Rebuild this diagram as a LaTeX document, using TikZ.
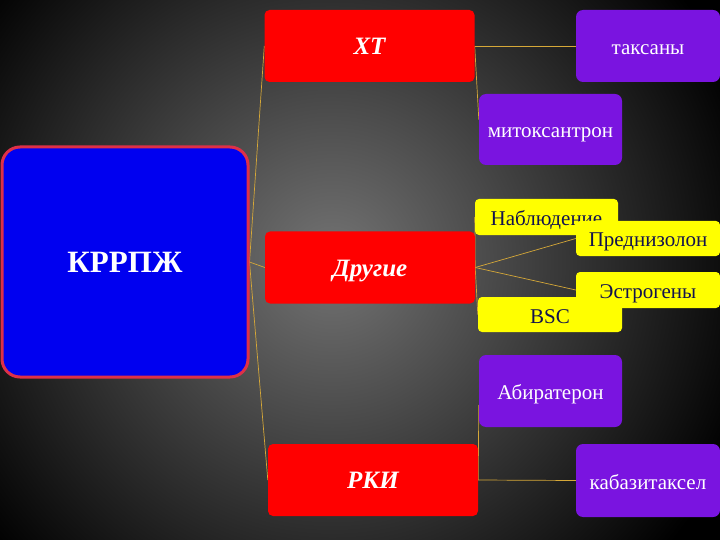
\documentclass[tikz,border=0pt]{standalone}
\usepackage{fontspec}
\setmainfont{Liberation Serif}
\usepackage{xcolor}
\usepackage{tikz}
\usetikzlibrary{positioning, calc}
\definecolor{slidegrey}{RGB}{116, 116, 116}
\definecolor{mainblue}{RGB}{0, 0, 240}
\definecolor{mainrim}{RGB}{222, 48, 72}
\definecolor{groupred}{RGB}{255, 0, 0}
\definecolor{drugviolet}{RGB}{122, 20, 224}
\definecolor{altyellow}{RGB}{255, 255, 0}
\definecolor{altnavy}{RGB}{18, 18, 78}
\definecolor{linkgold}{RGB}{214, 168, 56}
\pgfdeclarelayer{bg}
\pgfdeclarelayer{links}
\pgfsetlayers{bg,links,main}

\begin{document}
\begin{tikzpicture}[
    x=1pt, y=-1pt,
    mainbox/.style={rectangle, draw=mainrim, fill=mainblue, line width=3pt, rounded corners=18pt, align=center, minimum width=246pt, minimum height=230pt, text=white, font=\fontsize{31}{36}\selectfont\bfseries},
    groupbox/.style={rectangle, fill=groupred, rounded corners=5pt, align=center, minimum width=210pt, minimum height=72pt, inner sep=0pt, text height=20pt, text depth=3pt, text=white, font=\fontsize{25}{29}\selectfont\bfseries\itshape},
    drugbox/.style={rectangle, fill=drugviolet, rounded corners=7pt, align=center, minimum width=144pt, minimum height=72pt, inner sep=0pt, text height=18pt, text depth=1pt, text=white, font=\fontsize{21}{25}\selectfont},
    altbox/.style={rectangle, fill=altyellow, rounded corners=4pt, align=center, minimum width=144pt, minimum height=35pt, inner sep=0pt, text height=18pt, text depth=1pt, text=altnavy, font=\fontsize{21}{25}\selectfont},
    link/.style={draw=linkgold, line width=0.7pt}
]
\useasboundingbox (0,0) rectangle (720,540);

\begin{pgfonlayer}{bg}
\clip (0,0) rectangle (720,540);
\fill[black] (0,0) rectangle (720,540);
\shade[inner color=slidegrey, outer color=black] (332,262) circle (440);
\end{pgfonlayer}

\node [mainbox] (crpc) at (125,262) {КРРПЖ};

\node [groupbox] (chemo) at (369.5,46) {ХТ};
\node [groupbox] (other) at (370,267.5) {Другие};
\node [groupbox] (trials) at (373,480) {РКИ};

\node [drugbox] (taxanes) at (648,46) {таксаны};
\node [drugbox, minimum width=143pt, minimum height=71pt] (mitox) at (550.5,129.5) {митоксантрон};

\node [altbox, minimum width=143pt, minimum height=36pt] (watch) at (546.5,217) {Наблюдение};
\node [altbox] (pred) at (648,238.5) {Преднизолон};
\node [altbox] (bsc) at (550,314.5) {BSC};
\node [altbox, minimum height=36pt] (estro) at (648,290) {Эстрогены};

\node [drugbox, minimum width=143pt] (abira) at (550.5,391) {Абиратерон};
\node [drugbox, minimum height=73pt] (cabazi) at (648,480.5) {кабазитаксел};

\begin{pgfonlayer}{links}
\path [link] (crpc.east) -- (chemo.west);
\path [link] (crpc.east) -- (other.west);
\path [link] (crpc.east) -- (trials.west);
\path [link] (chemo.east) -- (taxanes.west);
\path [link] (chemo.east) -- ($(mitox.west)+(0,-10)$);
\path [link] (other.east) -- (watch.west);
\path [link] (other.east) -- (pred.west);
\path [link] (other.east) -- (estro.west);
\path [link] (other.east) -- (bsc.west);
\path [link] (trials.east) -- ($(abira.west)+(0,14)$);
\path [link] (trials.east) -- (cabazi.west);
\end{pgfonlayer}

\end{tikzpicture}
\end{document}
